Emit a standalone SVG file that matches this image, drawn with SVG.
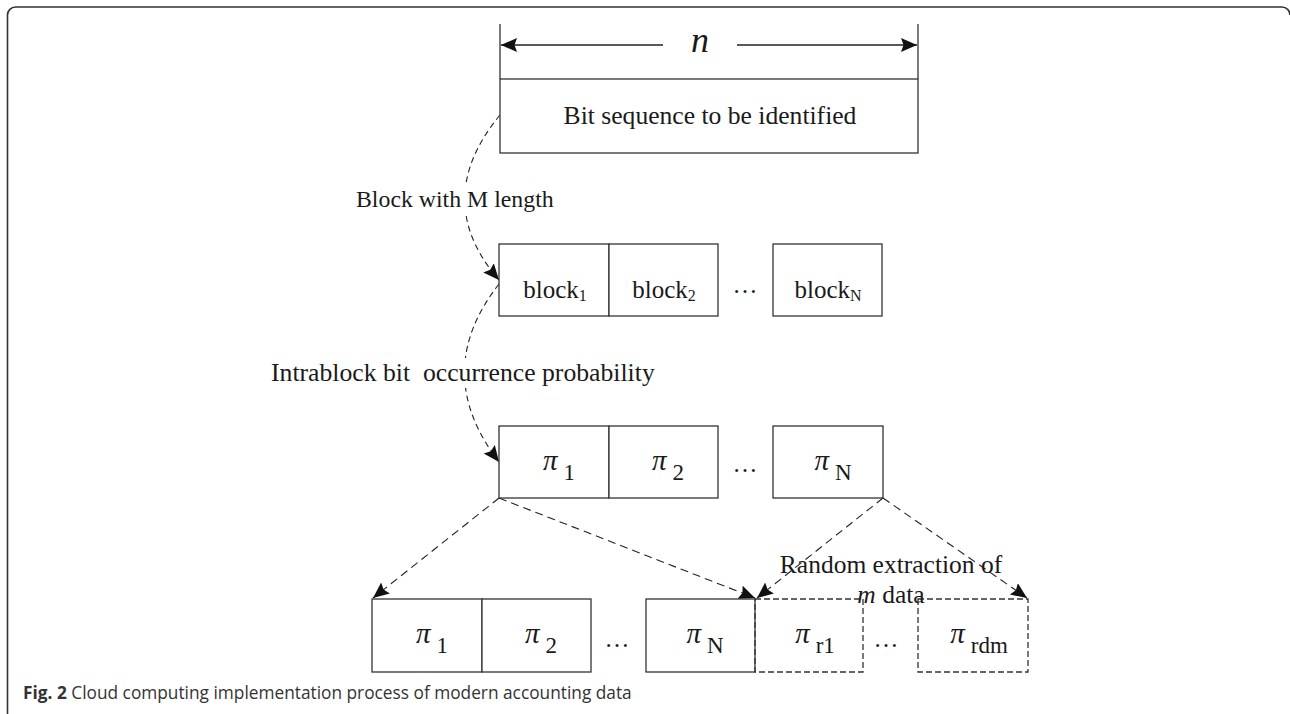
<svg xmlns="http://www.w3.org/2000/svg" width="1290" height="714" viewBox="0 0 1290 714">
<defs>
<style>
.box{fill:#fff;stroke:#333;stroke-width:1.3}
.dbox{fill:none;stroke:#333;stroke-width:1.3;stroke-dasharray:6 3}
.t{font-family:"Liberation Serif","Times New Roman",serif;fill:#1a1a1a}
.lbl{font-size:25px}
.pg{font-style:italic;font-size:29px}
.sub{font-size:23px}
.bsub{font-size:16px}
.conn{fill:none;stroke:#222;stroke-width:1.1;stroke-dasharray:8 5}
.curve{fill:none;stroke:#222;stroke-width:1.1;stroke-dasharray:6 4}
.dim{fill:none;stroke:#222;stroke-width:1.3}
.cap{font-family:"Open Sans","Noto Sans",sans-serif;font-size:17.3px;fill:#333}
</style>
<marker id="ah" markerWidth="17" markerHeight="15" refX="16" refY="7" orient="auto" markerUnits="userSpaceOnUse">
<path d="M0,0 L16,7 L0,14 L2.5,7 z" fill="#111"/>
</marker>
</defs>
<rect width="1290" height="714" fill="#fff"/>
<path d="M7.5 714 V15 A8 8 0 0 1 15.5 7 H1282 A8 8 0 0 1 1290 15" fill="none" stroke="#333" stroke-width="1.6"/>

<g id="connectors">
<line class="dim" x1="663" y1="45" x2="501" y2="45" marker-end="url(#ah)"/>
<line class="dim" x1="737" y1="45" x2="917" y2="45" marker-end="url(#ah)"/>
<path class="curve" d="M500,115 Q430,200 499,280" marker-end="url(#ah)"/>
<path class="curve" d="M499,284 Q430,372 499,462" marker-end="url(#ah)"/>
<line class="conn" x1="499" y1="498" x2="373" y2="598" marker-end="url(#ah)"/>
<line class="conn" x1="499" y1="498" x2="755" y2="598" marker-end="url(#ah)"/>
<line class="conn" x1="883" y1="498" x2="757" y2="598" marker-end="url(#ah)"/>
<line class="conn" x1="883" y1="498" x2="1027" y2="598" marker-end="url(#ah)"/>
</g>

<g id="bitseq">
<line x1="500" y1="24" x2="500" y2="79" stroke="#333" stroke-width="1.3"/>
<line x1="918" y1="24" x2="918" y2="79" stroke="#333" stroke-width="1.3"/>
<text class="t" x="700" y="52" text-anchor="middle" font-size="36" font-style="italic">n</text>
<rect class="box" x="500" y="79" width="418" height="74"/>
<text class="t" x="710" y="124" text-anchor="middle" font-size="25.6">Bit sequence to be identified</text>
</g>

<g id="label-block">
<rect x="354" y="185" width="202" height="29" fill="#fff"/>
<text class="t" x="356" y="207" font-size="23.8">Block with M length</text>
</g>

<g id="blocks">
<rect class="box" x="499" y="244" width="110" height="72"/>
<rect class="box" x="609" y="244" width="109" height="72"/>
<rect class="box" x="773" y="244" width="109" height="72"/>
<text class="t lbl" x="555" y="298" text-anchor="middle">block<tspan class="bsub" dy="3">1</tspan></text>
<text class="t lbl" x="664" y="298" text-anchor="middle">block<tspan class="bsub" dy="3">2</tspan></text>
<text class="t lbl" x="745" y="293" text-anchor="middle">…</text>
<text class="t lbl" x="828" y="298" text-anchor="middle">block<tspan class="bsub" dy="3">N</tspan></text>
</g>

<g id="label-intra">
<rect x="268" y="358" width="392" height="30" fill="#fff"/>
<text class="t" x="271" y="381" font-size="25.7" xml:space="preserve">Intrablock bit  occurrence probability</text>
</g>

<g id="pis">
<rect class="box" x="499" y="426" width="110" height="72"/>
<rect class="box" x="609" y="426" width="109" height="72"/>
<rect class="box" x="773" y="426" width="110" height="72"/>
<text class="t" x="559" y="470" text-anchor="middle"><tspan class="pg">π</tspan><tspan class="sub" dx="6" dy="10">1</tspan></text>
<text class="t" x="668" y="470" text-anchor="middle"><tspan class="pg">π</tspan><tspan class="sub" dx="6" dy="10">2</tspan></text>
<text class="t lbl" x="745" y="472" text-anchor="middle">…</text>
<text class="t" x="833" y="470" text-anchor="middle"><tspan class="pg">π</tspan><tspan class="sub" dx="6" dy="10">N</tspan></text>
</g>

<g id="result">
<rect class="box" x="372" y="599" width="110" height="73"/>
<rect class="box" x="482" y="599" width="109" height="73"/>
<rect class="box" x="646" y="599" width="109" height="73"/>
<rect class="dbox" x="755" y="599" width="108" height="73"/>
<rect class="dbox" x="918" y="599" width="110" height="73"/>
<text class="t" x="432" y="643" text-anchor="middle"><tspan class="pg">π</tspan><tspan class="sub" dx="6" dy="10">1</tspan></text>
<text class="t" x="541" y="643" text-anchor="middle"><tspan class="pg">π</tspan><tspan class="sub" dx="6" dy="10">2</tspan></text>
<text class="t lbl" x="617" y="647" text-anchor="middle">…</text>
<text class="t" x="705" y="643" text-anchor="middle"><tspan class="pg">π</tspan><tspan class="sub" dx="6" dy="10">N</tspan></text>
<text class="t" x="815" y="643" text-anchor="middle"><tspan class="pg">π</tspan><tspan class="sub" dx="6" dy="10">r1</tspan></text>
<text class="t lbl" x="886" y="647" text-anchor="middle">…</text>
<text class="t" x="979" y="643" text-anchor="middle"><tspan class="pg">π</tspan><tspan class="sub" dx="6" dy="10">rdm</tspan></text>
</g>

<g id="label-random">
<text class="t" x="891" y="573" text-anchor="middle" font-size="25.5">Random extraction of</text>
<text class="t" x="891" y="603" text-anchor="middle" font-size="25.5"><tspan font-style="italic">m</tspan> data</text>
</g>

<g id="caption">
<text class="cap" x="23" y="699"><tspan font-weight="bold">Fig. 2</tspan> Cloud computing implementation process of modern accounting data</text>
</g>
</svg>
